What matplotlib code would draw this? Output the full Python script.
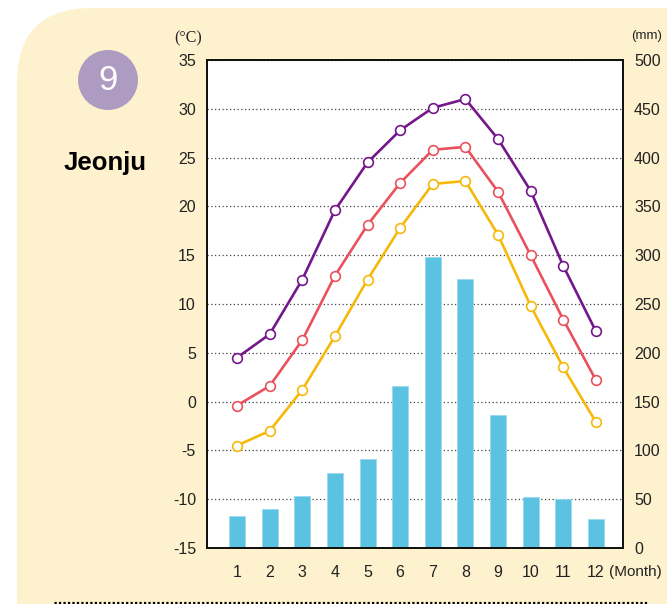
import matplotlib
matplotlib.use("Agg")
import matplotlib.pyplot as plt
from matplotlib.patches import FancyBboxPatch, Circle

plt.rcParams["axes.unicode_minus"] = False

# ----------------- Data -----------------
months = list(range(1, 13))
temp_max = [4.5, 6.9, 12.5, 19.6, 24.5, 27.8, 30.1, 31.0, 26.9, 21.6, 13.9, 7.2]
temp_mean = [-0.4, 1.6, 6.3, 12.9, 18.1, 22.4, 25.8, 26.1, 21.5, 15.0, 8.4, 2.2]
temp_min = [-4.5, -3.0, 1.2, 6.7, 12.5, 17.8, 22.3, 22.6, 17.1, 9.8, 3.5, -2.1]
precip = [33, 40, 53, 77, 91, 166, 298, 276, 136, 52, 50, 30]

temp_ticks = list(range(-15, 40, 5))
precip_ticks = list(range(0, 550, 50))

# ----------------- Fonts / colours -----------------
sans = "Liberation Sans"
cream = "#FEF1CE"
bar_col = "#5BC3E1"
line_cols = {"max": "#74178A", "mean": "#E9525D", "min": "#F6B90A"}

fig = plt.figure(figsize=(6.67, 6.04), dpi=100)

# background layer in pixel units
bg = fig.add_axes([0, 0, 1, 1], zorder=0)
bg.set_xlim(0, 667)
bg.set_ylim(604, 0)
bg.axis("off")
bg.add_patch(FancyBboxPatch((17, 8), 800, 700,
                            boxstyle="round,pad=0,rounding_size=75",
                            facecolor=cream, edgecolor="none"))
bg.add_patch(Circle((108, 80), 30, facecolor="#AE9BC1", edgecolor="none"))
bg.text(108, 81, "9", ha="center", va="center", color="white",
        fontsize=25, family=sans)
bg.text(105, 163, "Jeonju", ha="center", va="center", color="black",
        fontsize=18.5, fontweight="bold", family=sans)
bg.text(188, 38, "(°C)", ha="center", va="center", fontsize=11.5,
        family="Liberation Serif", color="#222222")
bg.text(647, 36, "(mm)", ha="center", va="center", fontsize=9.5,
        family=sans, color="#222222")
bg.text(635, 572, "(Month)", ha="center", va="center", fontsize=11,
        family=sans, color="#222222")
bg.plot([54, 647], [603, 603], color="black", lw=2.3,
        linestyle=(0, (0.7, 0.7)), solid_capstyle="butt")

# ----------------- Chart -----------------
rect = [207 / 667, 1 - 548 / 604, 416 / 667, 488 / 604]
ax2 = fig.add_axes(rect, zorder=1)
ax = ax2.twinx()
ax.set_zorder(2)
ax.patch.set_visible(False)
ax2.set_facecolor("white")

# precipitation bars (right axis, drawn underneath)
ax2.bar(months, precip, width=0.49, color=bar_col, edgecolor="#9ADAEE",
        linewidth=0.6, zorder=2)
ax2.set_ylim(0, 500)
ax2.set_xlim(0.08, 12.83)
ax2.set_yticks(precip_ticks)
ax2.yaxis.tick_right()
ax2.set_xticks(months)
ax2.grid(axis="y", color="#444444", linestyle=(0, (1, 2)), lw=0.9, zorder=1)
ax2.set_axisbelow(True)

# temperature lines (left axis)
for vals, key in [(temp_max, "max"), (temp_mean, "mean"), (temp_min, "min")]:
    ax.plot(months, vals, color=line_cols[key], lw=1.9, marker="o",
            markersize=7, markerfacecolor="white",
            markeredgecolor=line_cols[key], markeredgewidth=1.2, zorder=3)
ax.set_ylim(-15, 35)
ax.set_yticks(temp_ticks)
ax.yaxis.tick_left()

for a in (ax, ax2):
    a.tick_params(length=0, labelsize=11.5, colors="#222222")
    for lab in a.get_xticklabels() + a.get_yticklabels():
        lab.set_family(sans)
    for s in a.spines.values():
        s.set_color("#111111")
        s.set_linewidth(1.3)
ax.tick_params(axis="y", pad=8)
ax2.tick_params(axis="y", pad=8)
ax2.tick_params(axis="x", pad=12)

fig.savefig("out.png", dpi=100)
